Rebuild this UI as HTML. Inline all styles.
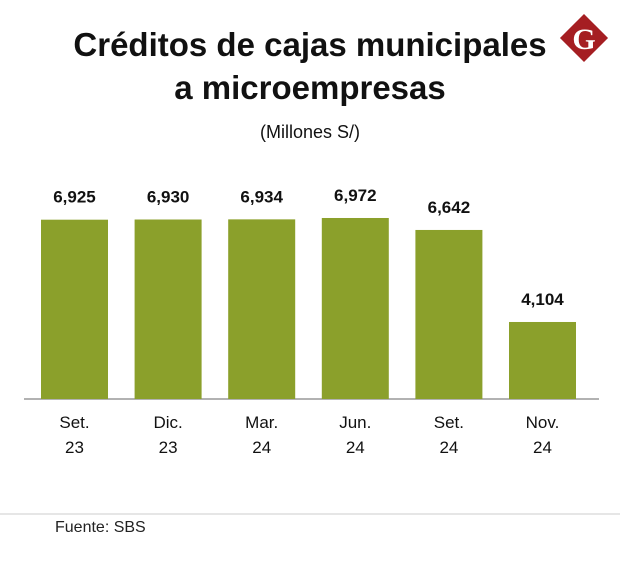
<!DOCTYPE html>
<html><head><meta charset="utf-8"><style>
body{margin:0;background:#fff;width:620px;height:560px;overflow:hidden;font-family:"Liberation Sans",sans-serif;}
</style></head><body>
<svg width="620" height="560">
<text x="310" y="56" text-anchor="middle" font-size="33" font-weight="bold" fill="#111">Créditos de cajas municipales</text>
<text x="310" y="99" text-anchor="middle" font-size="33" font-weight="bold" fill="#111">a microempresas</text>
<text x="310" y="138" text-anchor="middle" font-size="18" fill="#111">(Millones S/)</text>
<g>
<rect x="567" y="21" width="34" height="34" fill="#a51e22" transform="rotate(45 584 38)"/>
<text x="584" y="49" text-anchor="middle" font-family="Liberation Serif,serif" font-weight="bold" font-size="30" fill="#fff">G</text>
</g>
<line x1="24" y1="399" x2="599" y2="399" stroke="#666" stroke-width="1"/>
<g id="bars"></g>
<line x1="0" y1="514" x2="620" y2="514" stroke="#e6e6e6" stroke-width="2"/>
<text x="55" y="532" font-size="16" fill="#222">Fuente: SBS</text>
</svg>
<script>
const months=["Set.","Dic.","Mar.","Jun.","Set.","Nov."];
const years=["23","23","24","24","24","24"];
const values=[6925,6930,6934,6972,6642,4104];
const labels=["6,925","6,930","6,934","6,972","6,642","4,104"];
const ns="http://www.w3.org/2000/svg";
const g=document.getElementById("bars");
const base=399,vmin=1980,k=0.03626;
const y=v=>base-(v-vmin)*k;
const xc=i=>74.5+i*93.6;
function mk(t,a){const e=document.createElementNS(ns,t);for(const n in a)e.setAttribute(n,a[n]);g.appendChild(e);return e;}
values.forEach((v,i)=>{
 const r=mk("rect",{x:xc(i)-33.5,y:y(v),width:67,height:base-y(v),fill:"#8ba02b"});
 
 
 const t=mk("text",{x:xc(i),y:y(v)-17,"text-anchor":"middle","font-size":"17","font-weight":"bold",fill:"#111"});
 t.textContent=labels[i];
 
 
 const m=mk("text",{x:xc(i),y:428,"text-anchor":"middle","font-size":"17",fill:"#111"});
 m.textContent=months[i];
 
 
 const yr=mk("text",{x:xc(i),y:453,"text-anchor":"middle","font-size":"17",fill:"#111"});
 yr.textContent=years[i];
 
 
});
</script>
</body></html>
